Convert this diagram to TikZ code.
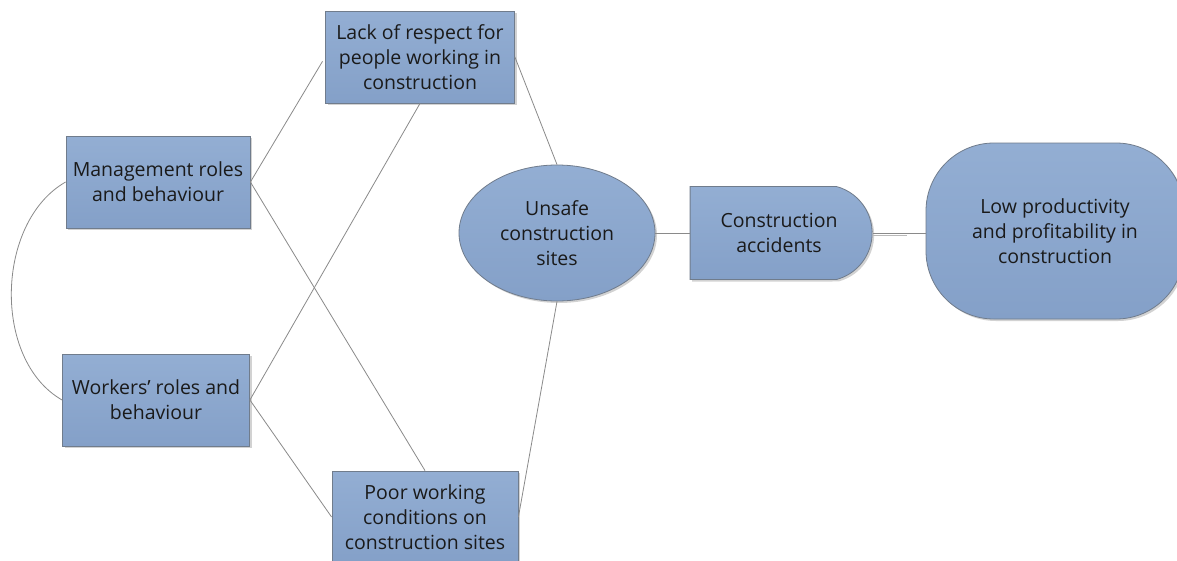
\documentclass[tikz,border=0pt]{standalone}
\usepackage{fontspec}
\setmainfont{Open Sans}
\usetikzlibrary{positioning, shapes.geometric, shapes.misc, shadows}

\definecolor{boxtop}{HTML}{93AED3}
\definecolor{boxbot}{HTML}{84A0C8}
\definecolor{boxline}{HTML}{707C8C}
\definecolor{linkgray}{HTML}{8A8A8A}
\definecolor{textdark}{HTML}{1A1A1A}

\tikzset{
  causebox/.style={draw=boxline, line width=0.8pt, top color=boxtop, bottom color=boxbot,
    drop shadow={opacity=0.35, shadow xshift=2pt, shadow yshift=-2pt},
    align=center, text=textdark, inner sep=0pt,
    font=\fontsize{19.5}{25}\selectfont},
  rectbox/.style={causebox, rectangle, minimum width=187pt, minimum height=92pt},
  link/.style={draw=linkgray, line width=0.8pt},
}

\begin{document}
\begin{tikzpicture}[x=1pt, y=-1pt]
  \useasboundingbox[fill=white] (0,0) rectangle (1177,560);

  % -- Causes on the left --
  \node[rectbox, minimum width=184pt] (mgmt) at (158,182) {Management roles\\and behaviour};
  \node[rectbox] (workers) at (156,400) {Workers’ roles and\\behaviour};

  % -- Intermediate factors --
  \node[rectbox, minimum width=189pt] (respect) at (420,57) {Lack of respect for\\people working in\\construction};
  \node[rectbox, minimum width=186pt] (poor) at (425,517) {Poor working\\conditions on\\construction sites};

  % -- Chain to the right --
  \node[causebox, ellipse, minimum width=196pt, minimum height=136pt] (unsafe) at (557,233) {Unsafe\\construction\\sites};
  \node[causebox, rounded rectangle, rounded rectangle west arc=none, rounded rectangle arc length=150,
    minimum width=182pt, minimum height=93pt] (accidents) at (779,233) {Construction\\accidents};
  \node[causebox, rectangle, rounded corners=68pt, minimum width=258pt, minimum height=176pt] (lowprod) at (1055,231)
    {Low productivity\\and profitability in\\construction};

  % -- Connectors --
  \draw[link] (mgmt.west) .. controls +(-70,40) and +(-70,-40) .. (workers.west);
  \draw[link, shorten >=5pt] (mgmt.east) -- (respect.west);
  \draw[link] (mgmt.east) -- (poor.north);
  \draw[link] (workers.east) -- (respect.south);
  \draw[link] (workers.east) -- (poor.west);
  \draw[link] (respect.east) -- (unsafe.north);
  \draw[link] (poor.east) -- (unsafe.south);
  \draw[link] (unsafe.east) -- (accidents.west);
  \draw[link] (accidents.east) -- (accidents.east -| lowprod.west);
  \draw[link, draw=linkgray!60] ([yshift=-2pt]accidents.east) -- ++(34,0);
\end{tikzpicture}
\end{document}
